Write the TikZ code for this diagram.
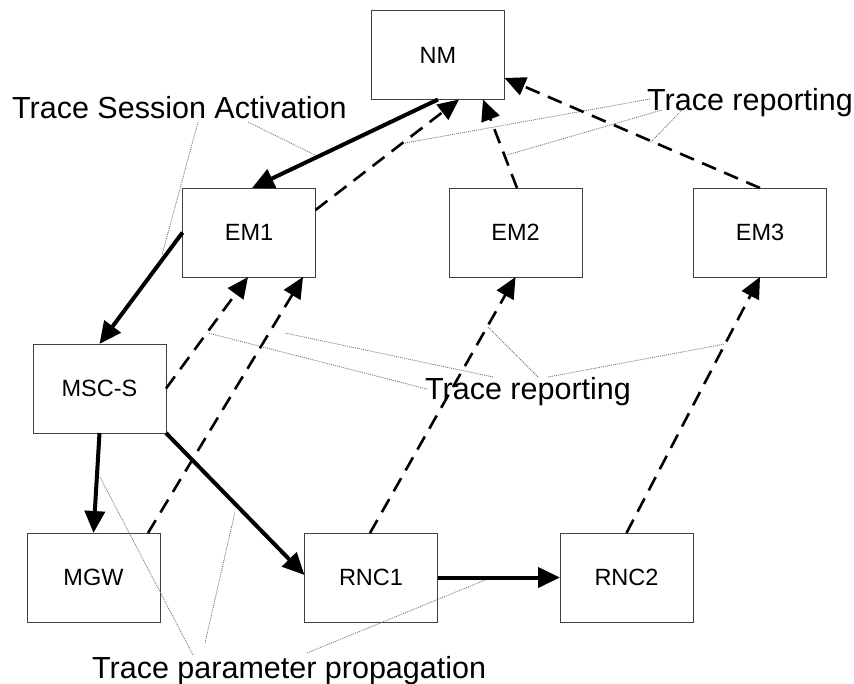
\documentclass[tikz,border=0pt]{standalone}
\usepackage{fontspec}
\setmainfont{Liberation Sans}
\usetikzlibrary{arrows.meta,calc}
\begin{document}
\begin{tikzpicture}[x=1pt,y=-1pt,
  box/.style={draw=black!75,line width=0.9pt,minimum width=133pt,minimum height=89pt,inner sep=0pt,outer sep=0pt,font=\fontsize{23.5}{25}\selectfont},
  big/.style={inner sep=0pt,anchor=base west,font=\fontsize{30.5}{33}\selectfont},
  solidarr/.style={line width=4pt,-{Triangle[length=22pt,width=20pt]}},
  dasharr/.style={line width=2.6pt,dash pattern=on 15pt off 9pt,-{Triangle[length=21pt,width=19pt]}},
  callout/.style={draw=black!55,line width=0.8pt,dash pattern=on 1pt off 1pt}]
\useasboundingbox (0,0) rectangle (854,683);
\fill[white] (0,0) rectangle (854,683);
% boxes
\node[box] (NM) at (438,55) {NM};
\node[box] (EM1) at (249,232.5) {EM1};
\node[box] (EM2) at (515.5,232.5) {EM2};
\node[box] (EM3) at (760,232.5) {EM3};
\node[box] (MSC) at (99.5,388.5) {MSC-S};
\node[box] (MGW) at (93.5,577.5) {MGW};
\node[box] (RNC1) at (371,577.5) {RNC1};
\node[box] (RNC2) at (626.5,577.5) {RNC2};
% labels
\node[big] (tsa) at (12,118) {Trace Session Activation};
\node[big] (tr1) at (647,110) {Trace reporting};
\node[big] (tr2) at (425,399) {Trace reporting};
\node[big] (tpp) at (92,678) {Trace parameter propagation};
% callout lines
\coordinate (a1) at (162,255);
\coordinate (a2) at (317,156);
\draw[callout] (198,122) -- (a1);
\draw[callout] (248,122) -- (a2);
\coordinate (b1) at (405,143);
\coordinate (b2) at (507,155);
\coordinate (b3) at (650,143);
\draw[callout] (650,99) -- (b1);
\draw[callout] (662,110) -- (b2);
\draw[callout] (682,110) -- (b3);
\coordinate (c1) at (208,333);
\coordinate (c2) at (285,333);
\coordinate (c3) at (488,327);
\coordinate (c4) at (725,344);
\draw[callout] (427,389) -- (c1);
\draw[callout] (493,377) -- (c2);
\draw[callout] (538,377) -- (c3);
\draw[callout] (548,377) -- (c4);
\coordinate (d1) at (100,477);
\coordinate (d2) at (235,512);
\coordinate (d3) at (490,578);
\draw[callout] (193,655) -- (d1);
\draw[callout] (205,643) -- (d2);
\draw[callout] (307,653) -- (d3);
% solid arrows
\draw[solidarr] (NM.south) -- ([xshift=3pt]EM1.north);
\draw[solidarr] (EM1.west) -- (MSC.north);
\draw[solidarr] (MSC.south) -- (MGW.north);
\draw[solidarr] (MSC.south east) -- ([yshift=2.5pt]RNC1.west);
\draw[solidarr] (RNC1.east) -- (RNC2.west);
% dashed arrows
\draw[dasharr] ([yshift=22.5pt]EM1.east) -- ([xshift=21pt]NM.south);
\draw[dasharr] ([xshift=1.5pt]EM2.north) -- ([xshift=45pt]NM.south);
\draw[dasharr] (EM3.north) -- ([yshift=-23pt]NM.east);
\draw[dasharr] (MSC.east) -- ([xshift=-1pt]EM1.south);
\draw[dasharr] ([xshift=54.5pt]MGW.north) -- ([xshift=54pt]EM1.south);
\draw[dasharr] ([xshift=-1pt]RNC1.north) -- (EM2.south);
\draw[dasharr] (RNC2.north) -- (EM3.south);
\end{tikzpicture}
\end{document}
